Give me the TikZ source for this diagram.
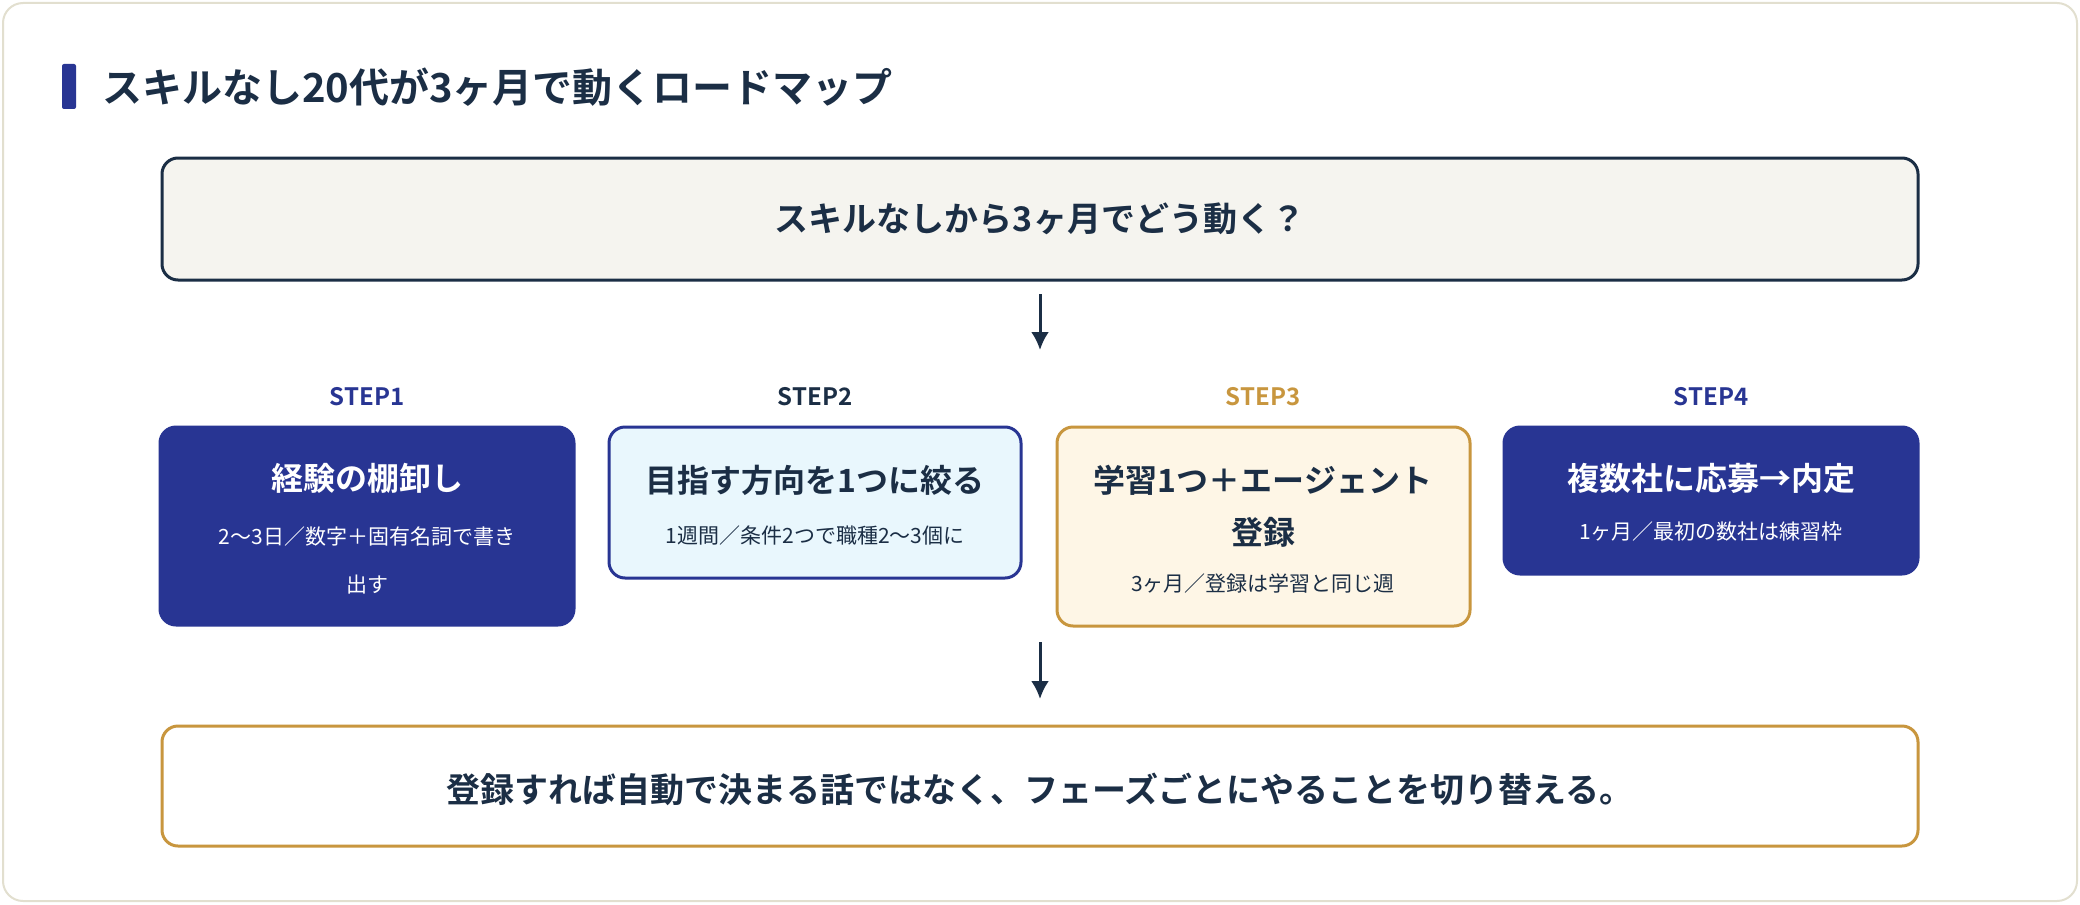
\documentclass[tikz,border=0pt]{standalone}
\usepackage{fontspec}
\usetikzlibrary{arrows.meta}
\setmainfont{Noto Sans CJK JP}[BoldFont={* Bold}]
\definecolor{navy}{HTML}{283593}
\definecolor{ink}{HTML}{1B2E45}
\definecolor{gold}{HTML}{C8963E}
\definecolor{cream}{HTML}{FEF6E6}
\definecolor{lblue}{HTML}{E9F7FD}
\definecolor{topfill}{HTML}{F5F4EF}
\definecolor{edge}{HTML}{E2DFCF}
\begin{document}
\begin{tikzpicture}[x=0.5pt,y=-0.5pt,
  box/.style={rounded corners=8pt,line width=1.5pt},
  steplbl/.style={font=\bfseries\fontsize{12}{14}\selectfont},
  ttl/.style={font=\bfseries\fontsize{16}{26}\selectfont,align=center,anchor=center},
  sub/.style={font=\fontsize{10.5}{24}\selectfont,anchor=center,align=center},
  arr/.style={-{Latex[length=9pt,width=9pt]},line width=1.5pt,ink}]
\useasboundingbox (0,0) rectangle (2080,904);
\draw[edge,fill=white,line width=1pt,rounded corners=10pt] (3,3) rectangle (2077,901);
\fill[navy,rounded corners=1pt] (62,64) rectangle (76,109);
\node[anchor=west,ink,font=\bfseries\fontsize{20}{24}\selectfont] (title) at (95,87) {スキルなし20代が3ヶ月で動くロードマップ};
\draw[box,ink,fill=topfill] (162,158) rectangle (1918,280);
\node[ink,font=\bfseries\fontsize{17}{20}\selectfont] (q) at (1040,219) {スキルなしから3ヶ月でどう動く？};
\coordinate (a1s) at (1040,294); \coordinate (a1e) at (1040,350);
\draw[arr] (a1s) -- (a1e);
% steps
\node[steplbl,navy] (s1) at (367,397) {STEP1};
\node[steplbl,ink] (s2) at (815,397) {STEP2};
\node[steplbl,gold] (s3) at (1263,397) {STEP3};
\node[steplbl,navy] (s4) at (1711,397) {STEP4};
\draw[box,navy,fill=navy] (160,427) rectangle (574,625);
\draw[box,navy,fill=lblue] (609,427) rectangle (1021,578);
\draw[box,gold,fill=cream] (1057,427) rectangle (1470,626);
\draw[box,navy,fill=navy] (1504,427) rectangle (1918,574);
\node[ttl,white] (t1) at (367,478) {経験の棚卸し};
\node[sub,white] (d1) at (367,560) {2〜3日／数字＋固有名詞で書き\\出す};
\node[ttl,ink] (t2) at (815,480) {目指す方向を1つに絞る};
\node[sub,ink] (d2) at (815,536) {1週間／条件2つで職種2〜3個に};
\node[ttl,ink] (t3) at (1263,506) {学習1つ＋エージェント\\登録};
\node[sub,ink] (d3) at (1263,584) {3ヶ月／登録は学習と同じ週};
\node[ttl,white] (t4) at (1711,478) {複数社に応募→内定};
\node[sub,white] (d4) at (1711,532) {1ヶ月／最初の数社は練習枠};
\coordinate (a2s) at (1040,642); \coordinate (a2e) at (1040,699);
\draw[arr] (a2s) -- (a2e);
\draw[box,gold,fill=white] (162,726) rectangle (1918,846);
\node[ink,font=\bfseries\fontsize{17}{20}\selectfont] (c) at (1040,789) {登録すれば自動で決まる話ではなく、フェーズごとにやることを切り替える。};
\end{tikzpicture}
\end{document}
